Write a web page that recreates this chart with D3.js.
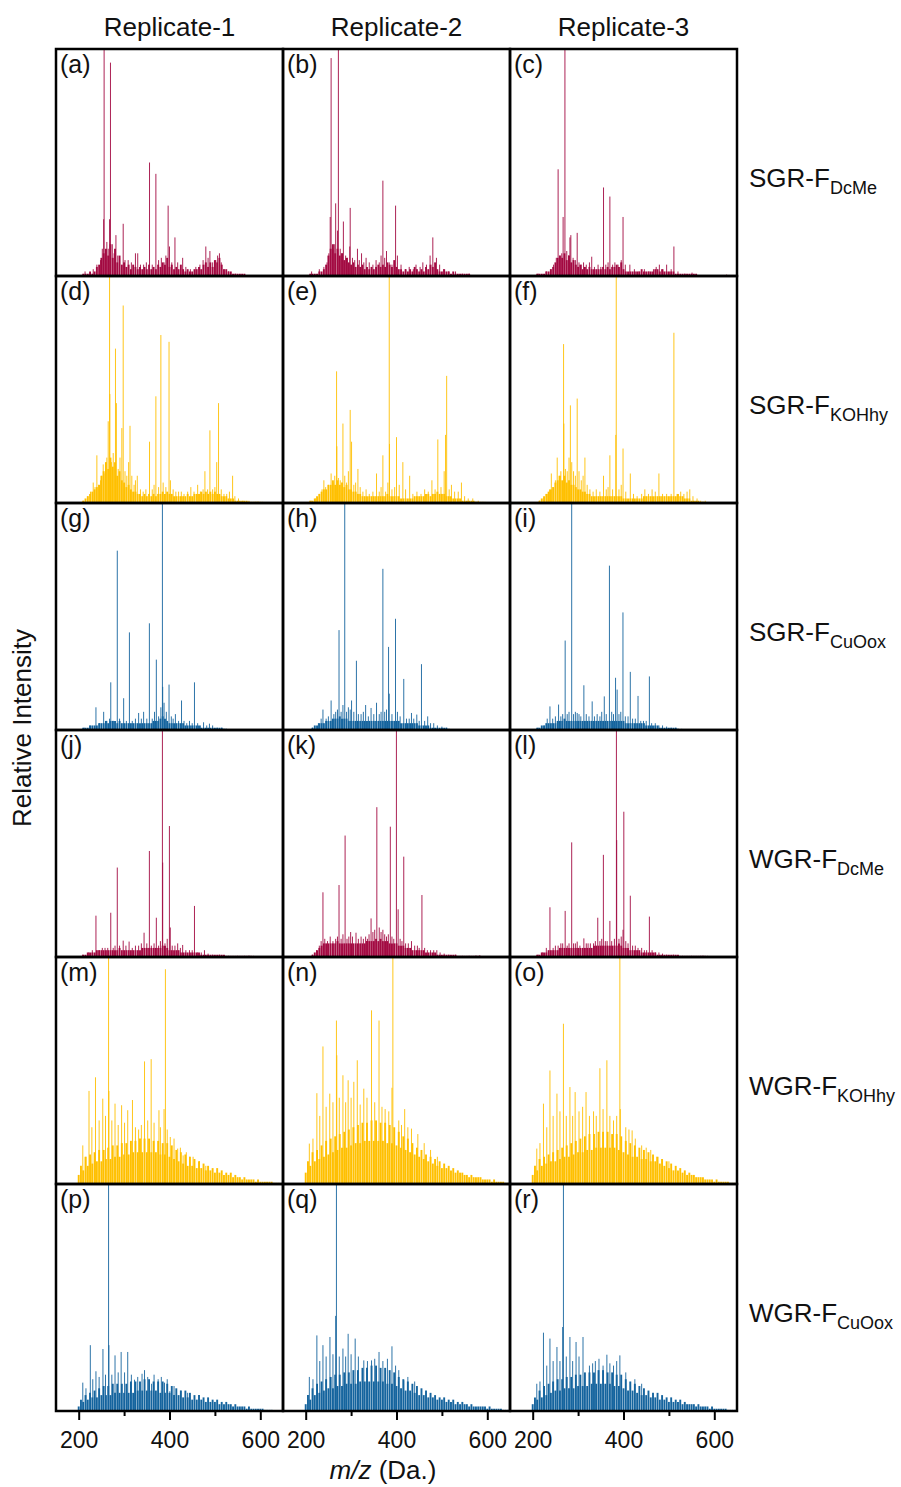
<!DOCTYPE html>
<html>
<head>
<meta charset="utf-8">
<style>
    body { margin: 0; background: #fff; }
    svg { display: block; font-family: Arial, "Liberation Sans", sans-serif; }
    .axis .domain { display: none; }
    .axis .tick line { stroke: #000; stroke-width: 2px; }
    .axis .tick text { font-size: 23px; fill: #111; }
    .frame { fill: none; stroke: #000; stroke-width: 2.5px; }
</style>
</head>
<body>
<svg width="901" height="1487"></svg>
<script src="https://d3js.org/d3.v7.min.js"></script>
<script>

// ---- labels ----
const colTitles = ["Replicate-1", "Replicate-2", "Replicate-3"];
const rowLabels = [["SGR-F", "DcMe"], ["SGR-F", "KOHhy"], ["SGR-F", "CuOox"],
                   ["WGR-F", "DcMe"], ["WGR-F", "KOHhy"], ["WGR-F", "CuOox"]];
const rowColors = ["#A30A42", "#FFC000", "#15649E", "#A30A42", "#FFC000", "#15649E"];
const panelIds = "abcdefghijklmnopqr".split("");
const xTicks = [200, 300, 400, 500, 600];
const xLabeled = [200, 400, 600];

// background bins (m/z, Da) for the dense low signal
const binMz = [200,205,210,215,220,225,230,235,240,245,
               250,255,260,265,270,275,280,285,290,295,
               300,305,310,315,320,325,330,335,340,345,
               350,355,360,365,370,375,380,385,390,395,
               400,405,410,415,420,425,430,435,440,445,
               450,455,460,465,470,475,480,485,490,495,
               500,505,510,515,520,525,530,535,540,545,
               550,555,560,565,570,575,580,585,590,595,
               600,605,610,615,620,625,630,635,640,645];

// ---- SGR-F DcMe ----
const peaksA = [[214,2],[232,3],[240,5],[248,7],[252,12],[255,25],[256,100],[262,15],[265,12],[268,25],[270,94],[274,14],[278,10],[282,18],[286,9],[290,8],[298,23],[302,7],[309,7],[316,6],[325,10],[330,10],[336,5],[343,5],[349,6],[356,50],[362,5],[370,45],[376,7],[382,8],[388,6],[392,9],[397,31],[400,13],[405,6],[412,17],[418,6],[429,8],[436,4],[446,3],[458,4],[467,5],[474,7],[480,13],[485,8],[489,11],[495,6],[502,7],[506,9],[510,10],[514,6],[520,3],[530,2],[545,1]];
const baseA = [0,0,1,1,1,2,1,2,4,5, 8,10,12,9,14,8,12,6,9,5, 6,4,5,3,5,4,3,4,3,4, 3,5,3,4,3,5,4,6,5,8, 4,5,3,4,3,5,3,2,3,2, 2,3,3,4,3,5,6,4,6,4, 7,6,8,5,3,3,2,2,1,1, 1,1,1,1,0,0,0,0,0,0, 0,0,0,0,0,0,0,0,0,0];
const peaksB = [[213,2],[230,3],[240,4],[247,6],[251,10],[254,26],[256,96],[260,12],[263,14],[266,32],[270,20],[272,100],[276,12],[280,10],[283,24],[288,9],[292,8],[297,13],[298,30],[303,8],[308,7],[314,12],[318,7],[323,10],[328,6],[333,8],[340,6],[348,5],[355,7],[362,6],[366,9],[370,42],[374,8],[378,11],[384,6],[390,5],[398,31],[402,9],[410,5],[420,3],[428,4],[437,3],[443,5],[452,4],[458,6],[466,5],[474,9],[480,17],[488,8],[495,5],[504,3],[515,2],[530,2],[545,1],[560,1]];
const baseB = [0,0,1,1,1,1,2,2,3,5, 9,12,14,10,12,9,10,7,8,6, 5,6,4,5,4,5,3,4,3,4, 3,4,5,4,5,4,6,5,4,7, 4,3,3,2,3,2,3,2,4,3, 2,3,2,4,3,5,4,6,3,2, 2,3,2,2,1,2,1,1,1,1, 1,1,1,0,0,0,0,0,0,0, 0,0,0,0,0,0,0,0,0,0];
const peaksC = [[212,1],[230,2],[240,3],[246,5],[252,8],[256,47],[260,9],[264,10],[267,26],[271,100],[275,11],[279,9],[282,17],[284,18],[289,8],[294,7],[298,19],[302,6],[307,5],[312,6],[318,5],[325,6],[330,8.5],[336,4],[344,5],[350,4],[356,39],[361,5],[366,6],[370,35],[376,5],[381,6],[388,5],[395,7],[399,26],[404,5],[414,5],[424,3],[434,2],[446,3],[456,2],[466,3],[472,4],[479,5],[487,3],[495,5],[505,3],[511,13],[520,2],[535,1],[551,1.5],[627,0.6]];
const baseC = [0,0,1,1,1,1,2,2,3,4, 6,8,9,8,10,7,9,6,7,5, 4,5,3,4,3,4,3,3,3,3, 3,4,3,4,3,4,4,5,4,6, 3,2,2,2,2,2,2,2,3,2, 2,2,2,2,3,3,2,3,2,2, 2,2,2,1,1,1,1,1,1,1, 1,1,1,0,0,0,0,0,0,0, 0,0,0,0,0,0,0,0,0,0];

// ---- SGR-F KOHhy ----
const peaksD = [[210,1],[220,3],[226,5],[232,9],[236,7],[240,21],[244,8],[248,10],[251,12],[254,17],[258,13],[262,20],[265,36],[268,100],[268.6,48],[272,18],[276,22],[281,68],[283,44],[287,15],[291,20],[295,33],[298,87],[302,14],[306,12],[310,18],[313,34],[317,12],[322,8],[325,10],[329,12],[336,6],[342,5],[348,6],[356,27],[362,6],[366,8],[370,47],[376,7],[381,74],[386,9],[392,7],[399,71],[402,10],[408,6],[414,5],[420,5],[426,5],[432,4],[440,5],[447,7],[454,5],[462,8],[468,5],[474,6],[478,14],[484,6],[489,32],[495,6],[500,7],[504,18],[508,44],[514,6],[520,4],[526,4],[532,5],[539,12],[544,3],[552,2],[562,1],[575,1],[590,0.5],[605,0.5]];
const baseD = [0,0,1,2,3,4,5,6,7,8, 12,14,18,15,20,16,18,12,14,10, 9,7,8,6,5,5,4,4,3,4, 3,4,3,4,3,4,4,5,4,5, 4,4,3,3,3,3,3,3,4,3, 3,4,4,4,5,4,5,4,5,4, 5,4,4,3,3,3,2,2,2,1, 1,1,1,1,1,0.5,0.5,0.5,0.5,0.5, 0.5,0,0,0,0,0,0,0,0,0];
const peaksE = [[212,1],[222,2],[230,4],[236,6],[240,10],[244,7],[250,8],[256,13],[260,9],[264,12],[268,58],[268.6,25],[272,11],[276,10],[282,35],[286,12],[290,9],[294,14],[298,41],[301,27],[306,8],[310,9],[315,15],[320,7],[326,5],[333,6],[340,4],[348,5],[356,13],[362,5],[366,7],[370,21],[376,5],[381,9],[384,100],[384.6,26],[390,6],[396,7],[400,29],[406,8],[414,18],[420,6],[429,12],[436,4],[445,5],[454,4],[462,6],[470,5],[478,10],[485,6],[491,28],[498,7],[505,14],[508,30],[510.5,56],[516,6],[521,8],[528,5],[536,5],[543,9],[550,3],[558,2],[568,2],[580,1],[595,0.5]];
const baseE = [0,0,1,1,2,3,4,5,6,6, 8,8,10,8,10,8,9,7,8,6, 6,5,5,4,4,3,3,3,3,3, 3,3,3,3,3,3,4,3,3,3, 3,3,2,2,2,2,2,2,3,3, 3,3,3,4,4,3,4,4,5,4, 4,4,3,3,3,2,2,2,2,1, 1,1,1,1,1,0.5,0.5,0.5,0.5,0, 0,0,0,0,0,0,0,0,0,0];
const peaksF = [[215,1],[225,2],[232,4],[237,6],[241,13],[245,7],[250,10],[254,20],[258,12],[262,14],[268,70],[268.6,35],[272,15],[276,14],[280,20],[283,43],[286,18],[290,14],[294,12],[298,46],[302,14],[307,10],[311,12],[315,20],[320,8],[326,6],[333,5],[340,6],[348,5],[356,12],[362,6],[366,7],[370,21],[376,6],[383,30],[384,100],[390,6],[395,8],[399,24],[405,5],[415,13],[422,4],[430,3],[440,4],[447,6],[455,4],[463,6],[470,5],[478,13],[486,4],[495,4],[505,4],[511,75],[518,4],[526,5],[533,4],[540,5],[546,6],[553,3],[562,2],[570,1],[580,1]];
const baseF = [0,0,0,1,2,3,4,5,6,7, 9,10,12,10,12,9,10,8,8,7, 6,6,5,5,4,4,3,3,3,3, 3,3,3,3,3,3,3,3,3,3, 2,2,2,2,2,2,2,2,2,3, 3,3,3,3,3,3,3,3,3,3, 3,3,3,3,4,3,3,2,2,2, 1,1,1,1,0.5,0.5,0,0,0,0, 0,0,0,0,0,0,0,0,0,0];

// ---- SGR-F CuOox ----
const peaksG = [[212,1],[225,2],[238,10],[246,3],[255,8],[262,4],[268,5],[270.6,21],[276,4],[285,79],[290,5],[299,14],[305,4],[311.7,43],[318,4],[325,5],[332,7.5],[338,5],[343,8],[350,5],[355.7,47],[362,5],[367,8],[371,31],[376,6],[381,10],[384.4,100],[385,19],[388,12],[393,8],[399,20],[404,6],[408,5],[413,7],[420,4],[426.5,13],[432,4],[438,3],[444,4],[450,3],[455,21],[462,3],[468,2],[475,3.4],[482,2],[488,2.8],[495,2],[505,1],[515,1],[525,0.5]];
const baseG = [0,0,1,1,1,2,2,2,2,3, 3,3,4,3,4,4,4,3,4,3, 3,3,3,3,3,3,3,3,3,3, 3,3,3,4,4,4,5,6,5,4, 3,3,3,3,3,3,3,2,2,2, 2,2,2,2,1,1,1,1,1,1, 1,1,1,1,0.5,0.5,0,0,0,0, 0,0,0,0,0,0,0,0,0,0, 0,0,0,0,0,0,0,0,0,0];
const peaksH = [[215,1],[228,3],[234,5],[238,9],[245,5],[250,6],[256,13],[262,7],[266,8],[270,9],[273.4,44],[278,8],[282,11],[286,100],[290,8],[294,10],[298,9],[301,13],[306,8],[311.7,30.5],[316,7],[322,7],[327,8],[332,11],[338,6],[344,9.7],[350,7],[356,12],[362,7],[366,8],[370,71],[374,8],[378,9],[382.5,36.6],[384,16],[390,7],[397.8,49],[402,8],[408,6],[416,22.5],[422,5],[428,5],[433,7.5],[438,5],[444.7,6.8],[450,4],[455,29],[462,4],[468.7,6],[475,3],[482,3],[490,2],[500,1.5],[510,1],[516,0.5]];
const baseH = [0,0,0,1,2,2,3,3,3,4, 4,4,5,5,5,6,5,5,5,4, 4,4,4,4,4,4,4,4,4,4, 4,4,4,4,4,4,4,4,4,4, 4,4,3,3,3,3,3,3,3,3, 2,2,2,2,2,1,1,1,1,1, 1,1,1,0.5,0,0,0,0,0,0, 0,0,0,0,0,0,0,0,0,0, 0,0,0,0,0,0,0,0,0,0];
const peaksI = [[212,1],[225,2],[232,5],[238,10.4],[244,5],[250,6],[257,11.2],[262,6],[266,7],[271.5,39.4],[276,7],[280,8],[285.9,100],[290,7],[294,8],[298,7.5],[302,7],[306,6],[312.7,19.7],[318,7],[324,6],[331,12.6],[336,6],[342,7],[348,6],[352,8],[357.7,14.8],[362,7],[369,72.4],[374,8],[378,7],[382.5,23],[386,17.8],[390,7],[394,8],[398.8,51.8],[404,6],[410,6],[415,25.6],[420,5],[426,5],[432,15],[438,4],[444,4],[450,4],[457,23.6],[462,3],[470,3],[478,2],[486,2],[495,1.5],[505,1],[515,1],[528,0.5]];
const baseI = [0,0,1,1,2,2,3,3,3,3, 3,4,4,4,5,4,4,4,4,4, 4,4,4,4,4,4,4,4,4,4, 4,4,4,4,4,4,4,4,4,4, 4,3,3,3,3,3,3,3,3,3, 2,2,2,2,2,2,1,1,1,1, 1,1,1,1,0.5,0,0,0,0,0, 0,0,0,0,0,0,0,0,0,0, 0,0,0,0,0,0,0,0,0,0];

// ---- WGR-F DcMe ----
const peaksJ = [[209,1],[222,2],[230,3],[238,18.2],[245,3],[252,4],[258,4],[264,4],[270.6,19.5],[276,4],[280,5],[285,39.4],[290,5],[298,7.2],[304,5],[311,6.8],[318,4],[325,5],[332,5],[338,6],[344,10.7],[350,6],[355.7,46.7],[360,5],[366,6],[371,17.3],[376,5],[380,7],[384.4,100],[385,41.6],[390,6],[395,8],[399.8,57.7],[401.7,13],[406,5],[412,5],[418,6],[424,4],[429,5.3],[436,3],[444,3],[450,3],[455,22.5],[462,2],[470,2],[477,3],[485,1.5],[495,1],[510,1],[530,0.5],[550,0.5],[565,0.5],[585,0.5]];
const baseJ = [0,0,1,1,2,2,2,2,3,3, 3,3,3,3,3,3,3,3,4,3, 3,3,3,3,3,3,3,3,4,4, 4,4,4,4,4,4,4,5,5,4, 3,3,3,3,3,2,2,2,2,2, 2,2,2,2,1,1,1,1,1,1, 1,1,1,1,1,0.5,0.5,0.5,0.5,0.5, 0.5,0.5,0.5,0.5,0.5,0.5,0.5,0,0,0, 0,0,0,0,0,0,0,0,0,0];
const peaksK = [[215,1],[224,3],[230,5],[234,7],[238,28.5],[242,8],[248,7],[254,9],[260,7],[266,8],[270,9],[273.4,31.7],[278,8],[282,10],[286.8,53.5],[291,8],[295,9],[299,11],[303,9],[310.8,10.7],[316,8],[322,9],[327,8],[332,9],[336,8],[339.5,10],[344,17],[348,11],[352,12],[356.7,66],[362,13],[366,11],[370,12],[374,10],[378,9],[382,10],[386.4,57.4],[390,9],[394,8],[399.8,100],[403.6,21],[408,8],[412,7],[416,44.2],[420,6],[426,6],[433,7],[440,5],[446,5],[450,4],[456,27.3],[462,4],[468,3],[475,3],[482,3],[488.8,3],[496,2],[505,1.5],[515,1],[530,1],[545,0.5],[560,0.5],[575,0.5],[583.5,0.8]];
const baseK = [0,0,0,1,2,3,4,5,6,6, 6,6,6,6,7,6,6,6,6,6, 6,6,6,6,6,6,6,7,7,7, 7,8,7,8,7,7,7,6,6,6, 6,5,5,5,4,4,4,3,3,3, 3,3,3,2,2,2,2,2,1,1, 1,1,1,1,1,1,1,0.5,0.5,0.5, 0.5,0.5,0.5,0.5,0.5,0.5,0.5,0,0,0, 0,0,0,0,0,0,0,0,0,0];
const peaksL = [[212,1],[222,2],[230,4],[238,21.9],[245,4],[250,5],[256,5],[262,6],[266,6],[271.5,20.3],[276,5],[280,6],[285.9,50.5],[290,6],[294,6],[298,6.8],[304,5],[312.7,8.2],[318,6],[322,6],[327,6],[334,6],[338,7],[343.3,17.3],[348,7],[352,8],[355.7,45],[360,7],[364,7],[370,15.9],[374,7],[380,8],[384.4,100],[385,51.5],[390,8],[395,9],[399,12],[400.7,64],[405,7],[410,6],[415,27],[420,5],[426,5],[432,4],[440,4],[446,3],[451,3],[457,17.8],[463,3],[470,2],[478,2],[486,1.5],[495,1],[510,1],[530,0.5],[550,0.5],[570,0.5],[585,0.5]];
const baseL = [0,0,1,1,2,2,2,3,3,3, 3,3,4,4,4,4,4,4,4,4, 4,4,4,4,4,4,4,5,5,5, 5,5,5,5,5,5,5,5,6,5, 4,4,4,3,3,3,3,3,2,2, 2,2,2,2,2,1,1,1,1,1, 1,1,1,1,1,0.5,0.5,0.5,0.5,0.5, 0.5,0.5,0.5,0.5,0.5,0.5,0.5,0,0,0, 0,0,0,0,0,0,0,0,0,0];

// ---- WGR-F KOHhy ----
const peaksM = [[209,17],[216,12],[222.7,41],[229,25],[237,47],[245,28],[253,37.6],[259,30],[265.8,100],[266.5,41],[273,28],[280,35.4],[287,26],[294.5,34.7],[301,27],[308,32.5],[318.4,37],[325,25],[332,24],[338,26],[345,54],[352,28],[359.6,55],[366,27],[376.8,32.5],[380,25],[388,33],[391,94.6],[395,24],[401.7,20.7],[410,20],[418,15.6],[424,16],[430,12.6],[437,14],[444.7,12],[452,12],[466,10],[480,8]];
const baseM = [4,8,6,12,8,13,9,14,10,15, 10,15,11,16,11,17,12,17,12,18, 13,18,13,19,14,19,14,20,14,20, 14,20,14,19,14,19,13,18,13,18, 12,17,11,15,10,14,9,13,8,12, 8,11,7,10,7,9,6,8,6,7, 5,7,5,6,4,5,4,5,3,4, 3,3,2,3,2,2,2,2,1,2, 1,1,1,1,1,1,0.5,0.5,0.5,0];
const peaksN = [[208,17.8],[216,20],[224.6,40],[231,30],[238,60.6],[245,34],[253,39.8],[260,36],[267.7,72],[268.5,56.7],[274,38],[282,47.9],[288,36],[293.5,45.7],[300,38],[306,45],[313.6,54.5],[320,35],[328,42],[335,38],[345,76.5],[352,36],[361.5,72],[368,34],[375,33],[383,32],[390,42.4],[392,100],[405,28],[411,26],[418,33],[425,25],[433,24.4],[447,22],[461,18],[475,15],[490,12]];
const baseN = [5,10,8,14,10,15,11,17,12,19, 13,20,14,21,15,22,16,23,16,24, 17,25,18,26,18,27,19,27,19,28, 19,28,19,27,19,27,18,26,18,25, 17,23,16,21,15,20,14,18,13,16, 12,15,11,13,10,12,9,11,8,10, 7,9,7,8,6,7,5,6,5,5, 4,4,3,4,3,3,3,3,2,2, 2,2,1,2,1,1,1,1,0.5,0.5];
const peaksO = [[209,15.6],[216,18],[223.7,35.4],[231,25],[238,50],[245,30],[253.4,39.8],[260,32],[267.7,70.6],[274,30],[282,42.7],[288,30],[293.5,40.5],[302,32],[310,34],[317.5,40.5],[325,30],[334,32],[340,30],[348,51],[355,33],[363.4,54.5],[370,30],[378,28],[385,30],[392,100],[393,33],[405,25],[412,24],[419,23.6],[426,20],[440,17],[450,16],[460,15],[473.4,12],[485,11],[500,10]];
const baseO = [4,8,6,11,8,12,9,13,10,14, 10,15,11,16,12,17,12,18,13,19, 14,20,14,21,15,22,15,22,16,23, 16,23,16,23,16,22,16,22,15,21, 14,19,13,18,12,17,12,16,11,15, 11,14,10,13,10,12,9,11,8,10, 7,9,6,8,6,7,5,6,4,5, 4,4,3,3,3,3,2,2,2,2, 1,2,1,1,1,1,1,0.5,0.5,0.5];

// ---- WGR-F CuOox ----
const peaksP = [[209,12.5],[216,10],[225.6,29],[231,14],[238,17.5],[245,15],[253.4,27.3],[259,16],[265.8,100],[266.5,29],[273,16],[280,24.5],[287,17],[293.5,26],[301,17],[308,26],[316,16],[323,13.8],[330,15],[339.5,16.4],[345,18],[352,15],[360.5,12],[366,16],[375,14],[382,15],[389,12.5],[395,14],[400.7,8.7],[410,11],[425,9],[440,8]];
const baseP = [2,5,4,7,5,8,6,9,6,10, 7,11,7,11,7,12,8,12,8,12, 8,12,8,13,8,13,9,13,9,14, 9,14,9,13,9,13,8,13,8,12, 8,11,7,10,7,9,6,9,6,8, 5,7,5,7,5,6,4,6,4,5, 4,5,3,4,3,4,3,3,2,3, 2,2,2,2,1,2,1,1,1,1, 1,1,0.5,0.5,0.5,0.5,0,0,0,0];
const peaksQ = [[208,15],[216,14],[224.6,33.3],[231,22],[238,29],[245,24],[253.4,32.6],[260,25],[266,41.9],[267.7,100],[274,24],[282,27.5],[288,24],[293.5,34],[300,25],[309,31.9],[316,24],[328,22.3],[336,22],[345,22.3],[352,23],[361.5,26],[370,22],[380,23],[390,28.5],[398,20],[405,18],[416,13.5],[425,15],[440,13]];
const baseQ = [3,7,5,10,7,12,8,13,9,14, 10,15,10,16,11,16,11,17,12,17, 12,18,12,18,13,19,13,19,13,20, 13,20,13,19,13,19,12,18,12,17, 11,15,10,14,9,13,9,12,8,11, 7,10,7,9,6,8,6,7,5,6, 5,6,4,5,4,5,3,4,3,4, 3,3,2,3,2,2,2,2,2,2, 1,2,1,1,1,1,1,0.5,0.5,0.5];
const peaksR = [[209,12],[216,13],[223.7,34.5],[231,20],[238,31.9],[245,22],[253.4,28.2],[260,22],[266,37],[267.7,100],[274,24],[282,32.6],[288,22],[295.5,30.4],[302,24],[310.8,32.6],[325,20],[332,21],[338,22],[346,23],[355,20],[363.4,24.8],[370,21],[378,20],[385,22],[392,24.5],[405,17],[415,12.8],[425,14],[440,12]];
const baseR = [3,6,5,9,6,11,7,12,8,13, 9,14,9,14,10,15,10,15,10,16, 11,16,11,17,11,17,12,17,12,18, 12,18,12,17,12,17,11,16,11,16, 10,14,9,13,9,12,8,11,7,10, 7,9,6,8,6,8,5,7,5,6, 4,6,4,5,4,5,3,4,3,3, 3,3,2,3,2,2,2,2,1,2, 1,1,1,1,1,1,0.5,0.5,0.5,0.5];

const peakSets = [peaksA, peaksB, peaksC, peaksD, peaksE, peaksF, peaksG, peaksH, peaksI,
                  peaksJ, peaksK, peaksL, peaksM, peaksN, peaksO, peaksP, peaksQ, peaksR];
const baseSets = [baseA, baseB, baseC, baseD, baseE, baseF, baseG, baseH, baseI,
                  baseJ, baseK, baseL, baseM, baseN, baseO, baseP, baseQ, baseR];

// ---- layout ----
const gridLeft = 56, gridTop = 49, pw = 227, ph = 227;

const svg = d3.select("svg");

const x = d3.scaleLinear().domain([150, 650]).range([0, pw]);
const y = d3.scaleLinear().domain([0, 100]).range([ph, 0]);

svg.append("defs").append("clipPath")
    .attr("id", "panel-clip")
    .append("rect")
    .attr("width", pw)
    .attr("height", ph);

panelIds.forEach(function (id, i) {
    let r = Math.floor(i / 3), c = i % 3;
    let g = svg.append("g")
        .attr("transform", `translate(${gridLeft + c * pw},${gridTop + r * ph})`);

    let plot = g.append("g").attr("clip-path", "url(#panel-clip)");

    let base = baseSets[i].map((v, k) => [binMz[k], v]).filter(d => d[1] > 0);

    // dense low-level signal
    plot.selectAll(".bg")
        .data(base)
        .join("line")
        .attr("class", "bg")
        .attr("x1", d => x(d[0]))
        .attr("x2", d => x(d[0]))
        .attr("y1", y(0))
        .attr("y2", d => y(d[1]))
        .style("stroke", rowColors[r])
        .style("stroke-width", "1.9px")

    plot.selectAll(".pk")
        .data(peakSets[i])
        .join("line")
        .attr("class", "pk")
        .attr("x1", d => x(d[0]))
        .attr("x2", d => x(d[0]))
        .attr("y1", y(0))
        .attr("y2", d => y(d[1]))
        .style("stroke", rowColors[r])
        .style("stroke-width", "0.9px")

    g.append("text")
        .attr("x", 4)
        .attr("y", 24)
        .text(`(${id})`)
        .style("font-size", "25px")
        .style("fill", "#111")

    if (r == 5) {
        let axis = d3.axisBottom(x)
            .tickValues(xTicks)
            .tickSize(9)
            .tickPadding(12)
            .tickFormat(d => xLabeled.includes(d) ? d : "");

        let ax = g.append("g")
            .attr("class", "axis")
            .attr("transform", `translate(0,${ph})`)
            .call(axis);

        ax.selectAll(".tick")
            .filter(d => !xLabeled.includes(d))
            .select("line")
            .attr("y2", 5);
    }
});

// frames on top
panelIds.forEach(function (id, i) {
    let r = Math.floor(i / 3), c = i % 3;
    svg.append("rect")
        .attr("class", "frame")
        .attr("x", gridLeft + c * pw)
        .attr("y", gridTop + r * ph)
        .attr("width", pw)
        .attr("height", ph);
});

// column titles
svg.selectAll(".col-title")
    .data(colTitles)
    .join("text")
    .attr("class", "col-title")
    .attr("x", (d, i) => gridLeft + i * pw + pw / 2)
    .attr("y", 36)
    .attr("text-anchor", "middle")
    .style("font-size", "26px")
    .style("fill", "#111")
    .text(d => d);

// row labels with subscript
let rowText = svg.selectAll(".row-label")
    .data(rowLabels)
    .join("text")
    .attr("class", "row-label")
    .attr("x", 749)
    .attr("y", (d, i) => gridTop + i * ph + ph / 2 + 24.5)
    .style("font-size", "26px")
    .style("fill", "#111");

rowText.append("tspan").text(d => d[0]);
rowText.append("tspan")
    .attr("dy", 6.5)
    .style("font-size", "18px")
    .text(d => d[1]);

// axis titles
svg.append("text")
    .attr("transform", `translate(31,${728}) rotate(-90)`)
    .attr("text-anchor", "middle")
    .style("font-size", "26px")
    .style("fill", "#111")
    .text("Relative Intensity");

let xt = svg.append("text")
    .attr("x", 383)
    .attr("y", 1479)
    .attr("text-anchor", "middle")
    .style("font-size", "26px")
    .style("fill", "#111");
xt.append("tspan").style("font-style", "italic").text("m/z");
xt.append("tspan").text(" (Da.)");

</script>
</body>
</html>
